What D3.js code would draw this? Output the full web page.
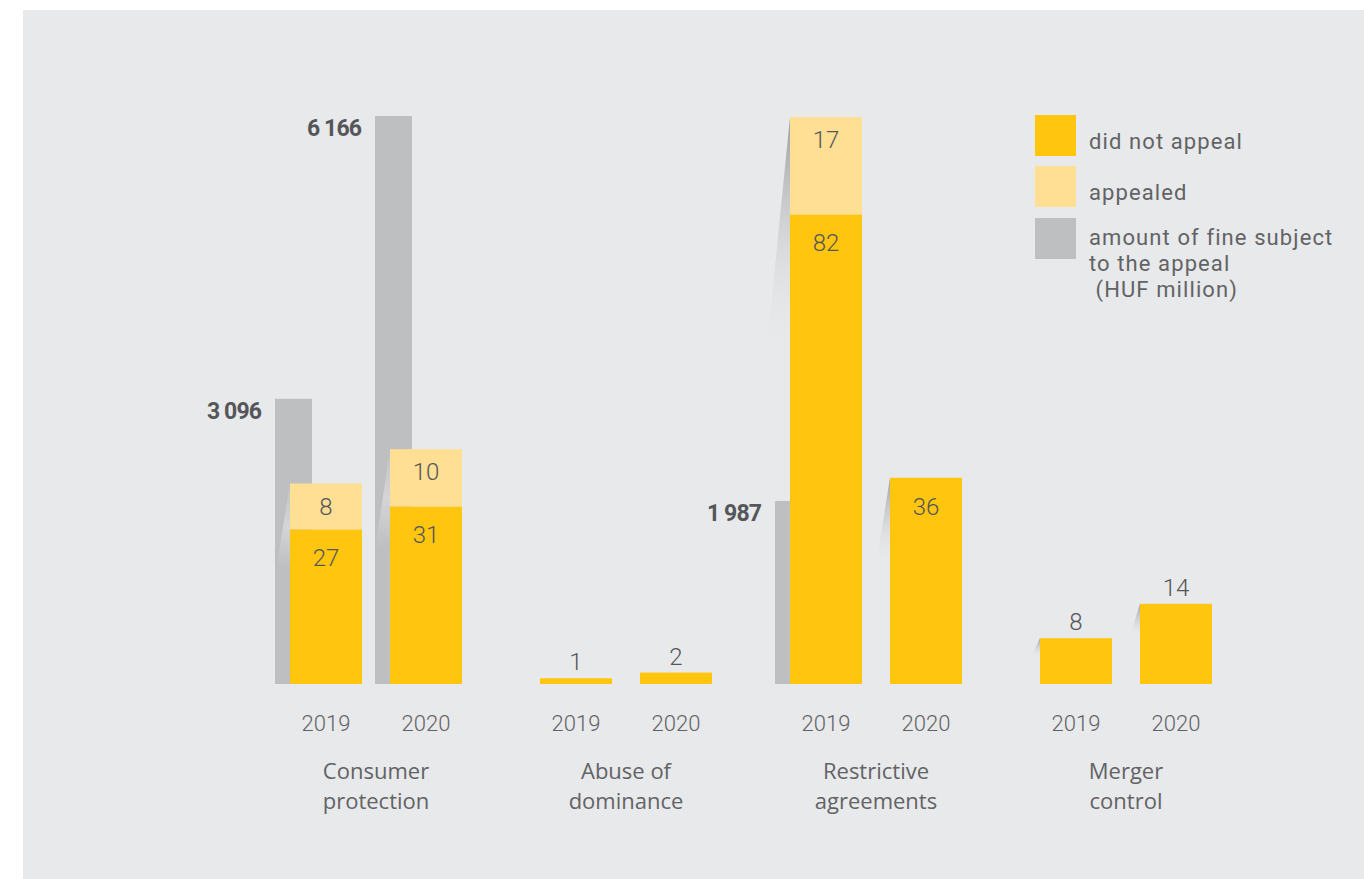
<!DOCTYPE html>
<html>
<head>
<meta charset="utf-8">
<script src="https://cdn.jsdelivr.net/npm/d3@7"></script>
<style>
  html, body { margin: 0; padding: 0; background: #ffffff; }
  svg { display: block; }
  text { font-family: Roboto, "Noto Sans", sans-serif; }
  text.lbl { font-family: "Open Sans", Roboto, sans-serif; }
</style>
</head>
<body>
<script>
// ---------- data ----------
const categories = ["Consumer protection", "Abuse of dominance", "Restrictive agreements", "Merger control"];
const categoryLines = [["Consumer", "protection"], ["Abuse of", "dominance"], ["Restrictive", "agreements"], ["Merger", "control"]];
const years = ["2019", "2020"];
const notAppealed2019 = [27, 1, 82, 8];
const notAppealed2020 = [31, 2, 36, 14];
const appealed2019 = [8, 0, 17, 0];
const appealed2020 = [10, 0, 0, 0];
const fineAmount2019 = [3096, null, 1987, null];
const fineAmount2020 = [6166, null, null, null];
const legendLabels = [["did not appeal"], ["appealed"], ["amount of fine subject", "to the appeal", " (HUF million)"]];

// ---------- styles ----------
const W = 1364, H = 879;
const C_YELLOW = "#FFC50F", C_LIGHT = "#FFDF93", C_GRAY = "#BEBFC1", C_BG = "#E8E9EB";
const C_TEXT = "#626365", C_NUM = "#555659";

const svg = d3.select("body").append("svg").attr("width", W).attr("height", H);
const defs = svg.append("defs");
const gradDark = defs.append("linearGradient").attr("id", "shadowDark").attr("x1", 0).attr("y1", 0).attr("x2", 0).attr("y2", 1);
gradDark.append("stop").attr("offset", "0%").attr("stop-color", "#8f9092").attr("stop-opacity", 0.85);
gradDark.append("stop").attr("offset", "100%").attr("stop-color", "#e8e9eb").attr("stop-opacity", 0);
const gradLight = defs.append("linearGradient").attr("id", "shadowLight").attr("x1", 0).attr("y1", 0).attr("x2", 0).attr("y2", 1);
gradLight.append("stop").attr("offset", "0%").attr("stop-color", "#ffffff").attr("stop-opacity", 0.05);
gradLight.append("stop").attr("offset", "50%").attr("stop-color", "#ffffff").attr("stop-opacity", 0.35);
gradLight.append("stop").attr("offset", "100%").attr("stop-color", "#ffffff").attr("stop-opacity", 0);

svg.append("rect").attr("x", 23).attr("y", 10).attr("width", W - 23).attr("height", H - 10).attr("fill", C_BG);

// ---------- scales ----------
const baseY = 684;
const x0 = d3.scaleBand().domain(categories).range([251, 1251]).padding(0);
const x1 = d3.scaleBand().domain(years).range([0, x0.bandwidth()]).paddingInner(0.28).paddingOuter(0.39);
const y = d3.scaleLinear().domain([0, 99]).range([baseY, 117]);
const yFine = d3.scaleLinear().domain([0, 6166]).range([baseY, 116]);
const fmt = d3.formatLocale({ decimal: ".", thousands: " ", grouping: [3], currency: ["", ""] }).format(",");

const rows = [];
categories.forEach((c, i) => {
  rows.push({ cat: c, year: "2019", na: notAppealed2019[i], ap: appealed2019[i], fine: fineAmount2019[i] });
  rows.push({ cat: c, year: "2020", na: notAppealed2020[i], ap: appealed2020[i], fine: fineAmount2020[i] });
});

const g = svg.append("g");

rows.forEach(d => {
  const bx = x0(d.cat) + x1(d.year);
  const bw = x1.bandwidth();
  const cx = bx + bw / 2;
  const total = d.na + d.ap;
  const topY = y(total);
  const h = baseY - topY;

  // grey fine bar
  if (d.fine != null) {
    const gx = bx - 15;
    g.append("rect").attr("x", gx).attr("y", yFine(d.fine)).attr("width", 37)
      .attr("height", baseY - yFine(d.fine)).attr("fill", C_GRAY);
    g.append("text").attr("x", gx - 14).attr("y", yFine(d.fine) + 20)
      .attr("text-anchor", "end").attr("font-size", 23).attr("font-weight", 700)
      .attr("letter-spacing", -0.9).attr("fill", C_NUM).text(fmt(d.fine));
  }

  // shadow wedge
  if (h > 20) {
    const dy = h * 0.42, dx = 8 + h * 0.028;
    const overGray = d.fine != null && yFine(d.fine) < topY + dy;
    g.append("path")
      .attr("d", d3.line()([[bx, topY], [bx - dx, topY + dy], [bx, topY + dy]]) + "Z")
      .attr("fill", overGray ? "url(#shadowLight)" : "url(#shadowDark)");
  }

  // not appealed
  g.append("rect").attr("x", bx).attr("y", y(d.na)).attr("width", bw)
    .attr("height", baseY - y(d.na)).attr("fill", C_YELLOW);
  // appealed
  if (d.ap > 0) {
    g.append("rect").attr("x", bx).attr("y", topY).attr("width", bw)
      .attr("height", y(d.na) - topY).attr("fill", C_LIGHT);
    const sh = y(d.na) - topY;
    g.append("text").attr("x", cx).attr("y", topY + Math.min(22, sh / 2) + 9)
      .attr("text-anchor", "middle").attr("font-size", 24).attr("font-weight", 300)
      .attr("fill", C_NUM).text(d.ap);
  }

  // value label for not appealed
  const naH = baseY - y(d.na);
  g.append("text").attr("x", cx).attr("y", naH > 120 ? y(d.na) + 37 : y(d.na) - 8)
    .attr("text-anchor", "middle").attr("font-size", 24).attr("font-weight", 300)
    .attr("fill", C_NUM).text(d.na);

  // year label
  g.append("text").attr("x", cx).attr("y", 731)
    .attr("text-anchor", "middle").attr("font-size", 22).attr("font-weight", 300)
    .attr("fill", C_TEXT).text(d.year);
});

// category labels
categories.forEach((c, i) => {
  const t = g.append("text").attr("class", "lbl").attr("text-anchor", "middle").attr("font-size", 22)
    .attr("font-weight", 400).attr("fill", C_TEXT);
  categoryLines[i].forEach((ln, k) => {
    t.append("tspan").attr("x", x0(c) + x0.bandwidth() / 2).attr("y", 779 + k * 30).text(ln);
  });
});

// legend
const legendColors = [C_YELLOW, C_LIGHT, C_GRAY];
const legendTops = [115, 166, 218];
legendLabels.forEach((lines, i) => {
  g.append("rect").attr("x", 1035).attr("y", legendTops[i]).attr("width", 41).attr("height", 41).attr("fill", legendColors[i]);
  const first = lines.length === 1 ? legendTops[i] + 34 : legendTops[i] + 27;
  lines.forEach((ln, k) => {
    g.append("text").attr("x", 1089).attr("y", first + k * 26)
      .attr("font-size", 22).attr("font-weight", 400).attr("letter-spacing", 1.1).attr("fill", C_TEXT)
      .attr("xml:space", "preserve").style("white-space", "pre").text(ln);
  });
});
</script>
</body>
</html>
